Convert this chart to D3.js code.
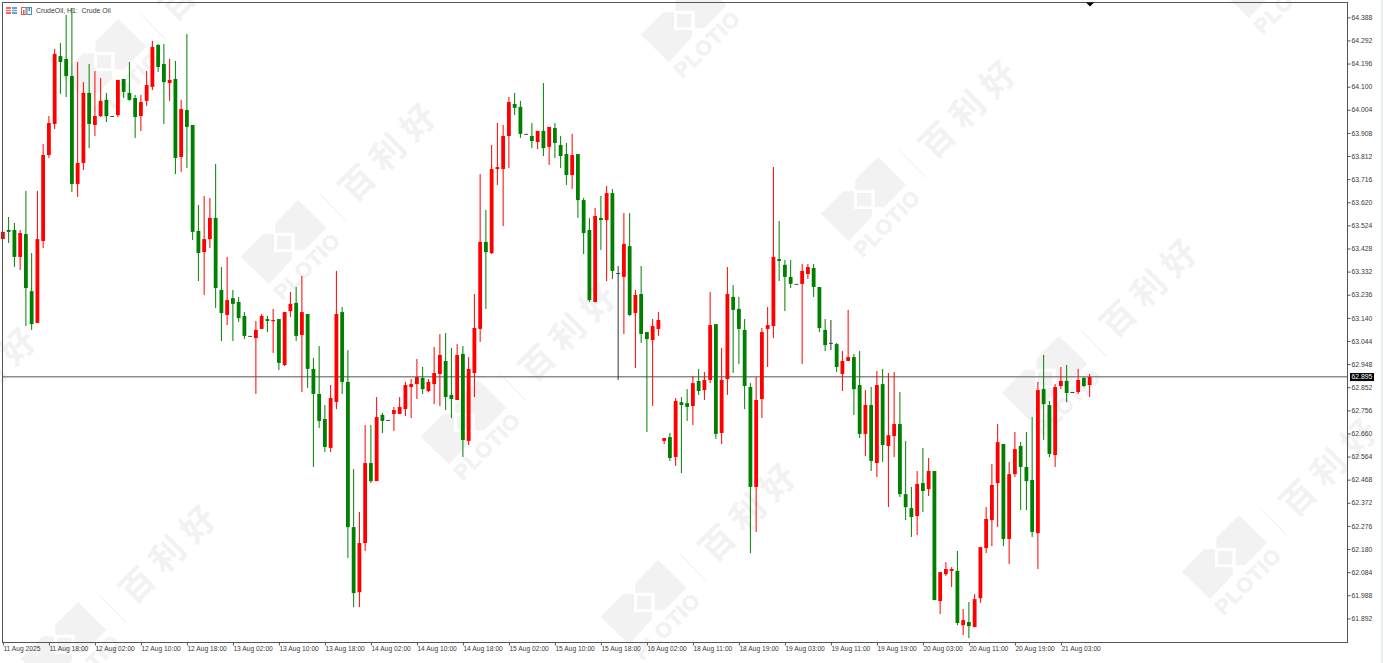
<!DOCTYPE html>
<html>
<head>
<meta charset="utf-8">
<script src="https://cdn.jsdelivr.net/npm/d3@7/dist/d3.min.js"></script>
<style>
html,body{margin:0;padding:0;background:#fff;overflow:hidden}
svg{display:block}
</style>
</head>
<body>
<svg id="c" width="1383" height="663"></svg>
<script>
const symbolTitle = "CrudeOil, H1:  Crude Oil";
const currentPrice = 62.895;
const currentPriceLabel = "62.895";
const priceTicks = [64.388,64.292,64.196,64.100,64.004,63.908,63.812,63.716,63.620,63.524,63.428,63.332,63.236,63.140,63.044,62.948,62.852,62.756,62.660,62.564,62.468,62.372,62.276,62.180,62.084,61.988,61.892];
const timeLabels = ["11 Aug 2025","11 Aug 18:00","12 Aug 02:00","12 Aug 10:00","12 Aug 18:00","13 Aug 02:00","13 Aug 10:00","13 Aug 18:00","14 Aug 02:00","14 Aug 10:00","14 Aug 18:00","15 Aug 02:00","15 Aug 10:00","15 Aug 18:00","16 Aug 02:00","18 Aug 11:00","18 Aug 19:00","19 Aug 03:00","19 Aug 11:00","19 Aug 19:00","20 Aug 03:00","20 Aug 11:00","20 Aug 19:00","21 Aug 03:00"];
const barsPerTimeLabel = 8;

const opens = [
63.467,63.505,63.505,63.393,63.488,63.251,63.119,63.459,63.816,63.945,
64.227,64.215,64.144,63.696,63.783,64.074,63.941,63.978,64.045,63.978,
63.982,64.132,64.074,64.053,63.978,64.041,64.099,64.273,64.194,64.115,
64.132,63.808,64.003,63.941,63.501,63.413,63.467,63.555,63.256,63.152,
63.222,63.206,63.148,63.065,63.056,63.094,63.135,63.127,63.135,62.944,
63.168,63.202,63.069,63.156,62.928,62.824,62.720,62.600,62.791,63.164,
62.874,62.271,62.001,62.205,62.537,62.462,62.737,62.716,62.741,62.741,
62.761,62.853,62.865,62.890,62.836,62.865,62.907,62.961,62.820,62.799,
62.990,62.629,62.911,63.094,63.455,63.409,63.758,63.758,63.895,64.028,
64.016,63.904,63.895,63.870,63.916,63.850,63.928,63.858,63.820,63.733,
63.820,63.629,63.505,63.206,63.555,63.546,63.658,63.326,63.310,63.438,
63.160,63.239,63.081,63.048,63.094,62.629,62.645,62.562,62.790,62.786,
62.774,62.878,62.840,62.882,63.114,62.662,62.886,63.227,63.177,63.090,
62.853,62.438,62.803,63.094,63.106,63.384,63.360,63.310,63.281,63.281,
63.322,63.347,63.268,63.090,63.036,63.031,62.907,62.961,62.977,62.861,
62.658,62.778,62.537,62.865,62.608,62.649,62.699,62.408,62.350,62.317,
62.454,62.429,62.504,61.964,62.076,62.089,62.089,61.864,61.877,61.856,
61.976,62.184,62.300,62.454,62.616,62.222,62.491,62.608,62.521,62.467,
62.246,62.844,62.778,62.570,62.857,62.878,62.832,62.832,62.890,62.861];

const closes = [
63.497,63.497,63.393,63.492,63.264,63.114,63.467,63.816,63.949,64.236,
64.202,64.144,63.696,63.783,64.074,63.945,63.978,64.041,63.978,63.978,
64.128,64.078,64.045,63.974,64.036,64.107,64.265,64.182,64.119,64.128,
63.804,64.007,63.933,63.497,63.409,63.467,63.555,63.264,63.160,63.214,
63.198,63.139,63.065,63.065,63.090,63.148,63.127,63.131,62.953,63.164,
63.198,63.065,63.164,62.928,62.824,62.712,62.604,62.807,63.156,62.874,
62.271,61.997,62.205,62.537,62.462,62.728,62.712,62.716,62.757,62.770,
62.861,62.865,62.894,62.844,62.874,62.911,62.986,62.811,62.803,62.986,
62.633,62.928,63.098,63.455,63.413,63.758,63.766,63.895,64.036,64.012,
63.904,63.904,63.874,63.916,63.845,63.933,63.866,63.812,63.733,63.816,
63.629,63.492,63.214,63.563,63.546,63.658,63.335,63.326,63.447,63.152,
63.235,63.073,63.052,63.106,63.131,62.641,62.558,62.795,62.778,62.770,
62.869,62.836,62.882,63.110,62.658,62.882,63.239,63.173,63.094,62.857,
62.438,62.799,63.081,63.110,63.393,63.376,63.310,63.281,63.281,63.335,
63.351,63.268,63.098,63.027,63.036,62.936,62.961,62.977,62.844,62.658,
62.778,62.546,62.861,62.612,62.653,62.699,62.408,62.354,62.313,62.450,
62.421,62.504,61.968,62.084,62.097,62.097,61.873,61.885,61.860,61.972,
62.188,62.305,62.446,62.624,62.222,62.491,62.595,62.521,62.462,62.251,
62.840,62.782,62.575,62.853,62.878,62.828,62.832,62.882,62.857,62.894];

const highs = [
63.497,63.559,63.534,63.505,63.667,63.409,63.667,63.862,63.978,64.257,
64.281,64.398,64.427,64.202,64.119,64.194,64.165,64.136,64.074,63.978,
64.128,64.132,64.202,64.066,64.066,64.165,64.290,64.277,64.277,64.215,
64.207,64.045,64.319,63.941,63.609,63.646,63.638,63.779,63.351,63.393,
63.256,63.227,63.164,63.065,63.127,63.156,63.148,63.177,63.135,63.164,
63.247,63.268,63.314,63.156,62.973,63.023,62.778,62.861,63.335,63.185,
63.006,62.512,62.334,62.695,62.695,62.811,62.745,62.716,62.770,62.811,
62.874,62.886,62.969,62.936,62.886,63.019,63.073,63.077,63.015,63.031,
63.023,62.977,63.239,63.737,63.588,63.858,63.949,63.941,64.057,64.074,
64.041,63.904,63.949,63.916,64.115,63.933,63.949,63.895,63.866,63.904,
63.820,63.638,63.555,63.596,63.646,63.688,63.675,63.355,63.575,63.575,
63.256,63.355,63.081,63.135,63.164,62.641,62.662,62.807,62.811,62.844,
62.899,62.928,62.915,63.247,63.114,63.015,63.351,63.276,63.227,63.135,
62.869,62.894,63.098,63.185,63.766,63.542,63.380,63.380,63.281,63.364,
63.364,63.364,63.268,63.135,63.131,63.036,63.002,63.173,62.990,63.002,
62.840,62.853,62.919,62.928,62.911,62.915,62.832,62.629,62.438,62.504,
62.600,62.558,62.504,62.084,62.126,62.105,62.172,61.931,61.960,61.993,
62.188,62.354,62.533,62.699,62.616,62.541,62.666,62.624,62.666,62.728,
62.874,62.986,62.795,62.865,62.936,62.944,62.832,62.928,62.894,62.907];

const lows = [
63.467,63.451,63.351,63.339,63.106,63.090,63.119,63.430,63.804,63.924,
64.070,64.057,63.663,63.642,63.754,63.845,63.895,63.974,63.953,63.978,
63.974,64.053,64.041,63.887,63.916,64.020,64.086,64.161,63.945,64.041,
63.737,63.746,63.762,63.463,63.293,63.235,63.430,63.181,63.044,63.110,
63.044,63.123,63.052,63.065,62.824,63.094,63.081,62.994,62.923,62.940,
63.144,63.044,62.832,62.849,62.521,62.683,62.583,62.583,62.761,62.824,
62.143,61.939,61.939,62.172,62.454,62.462,62.662,62.716,62.670,62.741,
62.732,62.724,62.803,62.824,62.832,62.782,62.774,62.757,62.724,62.799,
62.562,62.612,62.811,63.040,63.177,63.405,63.692,63.521,63.762,63.982,
63.887,63.904,63.845,63.841,63.812,63.775,63.804,63.762,63.692,63.675,
63.555,63.405,63.206,63.206,63.422,63.293,63.301,62.882,63.073,63.148,
62.932,63.036,62.666,62.774,63.065,62.616,62.546,62.525,62.496,62.712,
62.695,62.820,62.799,62.869,62.637,62.616,62.820,62.911,62.948,62.761,
62.163,62.251,62.724,62.936,63.056,63.293,63.168,63.264,63.281,62.948,
63.301,63.227,63.081,63.002,63.006,62.915,62.836,62.961,62.737,62.641,
62.566,62.504,62.479,62.541,62.354,62.562,62.396,62.300,62.230,62.238,
62.334,62.400,61.968,61.910,62.068,62.022,61.864,61.823,61.810,61.856,
61.956,62.163,62.192,62.271,62.192,62.118,62.479,62.342,62.342,62.230,
62.097,62.633,62.562,62.521,62.844,62.790,62.832,62.824,62.853,62.811];

const watermarkAnchors = [[118,45],[298,226],[478,406],[658,586],[698,4],[878,183],[1059,362],[1239,541],[1278,-40],[78,628],[-102,450]];

const LEFT = 2.5, TOP = 2.5, RIGHT = 1347.5, BOTTOM = 642.5;
const UI_FONT = "'Liberation Sans', Arial, sans-serif";
const svg = d3.select("#c");

const x = d3.scaleLinear().domain([0, 189]).range([2.9, 2.9 + 5.75 * 189]);
const y = d3.scaleLinear().domain([61.892, 64.388]).range([618.4, 17.3]);

// ---- watermark ----
const wmColor = "#f2f2f2";
const wm = svg.append("g").selectAll("g").data(watermarkAnchors).join("g")
  .attr("transform", d => `translate(${d[0]},${d[1]})`);
wm.append("polygon").attr("fill", wmColor)
  .attr("points", "-22.7,-3.3 0,-26 28.3,1.7 6,24.3 -3.3,24.3 -3.3,6.7 -22.7,6.7");
wm.append("polygon").attr("fill", wmColor)
  .attr("points", "-57.3,30.7 -35,8.3 -24,8.3 -24,26 -6,26 -6,33.3 -29,58.3");
wm.append("rect").attr("fill", wmColor).attr("x", -21).attr("y", 10).attr("width", 14.3).attr("height", 13.3);
wm.append("text").text("PLOTIO").attr("text-anchor", "middle").attr("dominant-baseline", "central")
  .attr("transform", "translate(9,40) rotate(-45)")
  .attr("font-family", UI_FONT).attr("font-weight", "700").attr("font-size", 21)
  .attr("letter-spacing", 1).attr("fill", wmColor).attr("stroke", wmColor).attr("stroke-width", 0.6);
wm.append("line").attr("x1", 21.7).attr("y1", -32.3).attr("x2", 47.7).attr("y2", -5.7)
  .attr("stroke", wmColor).attr("stroke-width", 1.2);
wm.append("text").text("百利好").attr("text-anchor", "middle").attr("dominant-baseline", "central")
  .attr("transform", "translate(91,-78) rotate(-45)")
  .attr("font-family", "'Noto Sans CJK SC'").attr("font-weight", "700").attr("font-size", 34)
  .attr("letter-spacing", 9).attr("fill", wmColor);

// ---- price line ----
svg.append("line").attr("x1", LEFT).attr("x2", RIGHT)
  .attr("y1", y(currentPrice)).attr("y2", y(currentPrice))
  .attr("stroke", "#8c8c8c").attr("stroke-width", 1.5);

// ---- candles ----
const RED = "#ff0000", GREEN = "#008000", DOJI = "#333333";
const colorOf = i => closes[i] > opens[i] ? RED : closes[i] < opens[i] ? GREEN : DOJI;
const candles = svg.append("g").selectAll("g").data(d3.range(opens.length)).join("g");
candles.append("line")
  .attr("x1", i => x(i)).attr("x2", i => x(i))
  .attr("y1", i => y(highs[i])).attr("y2", i => y(lows[i]))
  .attr("stroke", colorOf).attr("stroke-width", 1);
candles.append("rect")
  .attr("x", i => x(i) - 1.9).attr("width", 3.8)
  .attr("y", i => y(Math.max(opens[i], closes[i])))
  .attr("height", i => Math.max(closes[i] === opens[i] ? 0.9 : 1.2, Math.abs(y(opens[i]) - y(closes[i]))))
  .attr("fill", colorOf);

// ---- frame ----
svg.append("rect").attr("x", LEFT).attr("y", TOP).attr("width", RIGHT - LEFT).attr("height", BOTTOM - TOP)
  .attr("fill", "none").attr("stroke", "#555").attr("stroke-width", 1);
svg.append("rect").attr("x", 1381).attr("y", 0).attr("width", 2).attr("height", 663).attr("fill", "#e9efec");

// ---- axes ----
const yAxis = d3.axisRight(y).tickValues(priceTicks).tickFormat(d3.format(".3f")).tickSize(3).tickPadding(1);
const gy = svg.append("g").attr("transform", `translate(${RIGHT},0)`).call(yAxis);
gy.select(".domain").remove();
gy.selectAll("line").attr("stroke", "#555");
gy.selectAll("text").attr("font-family", UI_FONT).attr("font-size", 6.8).attr("fill", "#3a3a3a");

const timeTickIndex = timeLabels.map((_, i) => i * barsPerTimeLabel);
const xAxis = d3.axisBottom(x).tickValues(timeTickIndex).tickFormat((d, i) => timeLabels[i]).tickSize(3).tickPadding(1);
const gx = svg.append("g").attr("transform", `translate(0,${BOTTOM})`).call(xAxis);
gx.select(".domain").remove();
gx.selectAll("line").attr("stroke", "#555");
gx.selectAll("text").attr("font-family", UI_FONT).attr("font-size", 6.7).attr("fill", "#3a3a3a").attr("text-anchor", "start");

// ---- current price tag ----
svg.append("rect").attr("x", 1350).attr("y", y(currentPrice) - 3.8).attr("width", 24).attr("height", 8).attr("fill", "#000");
svg.append("text").text(currentPriceLabel).attr("x", 1351.5).attr("y", y(currentPrice) + 2.5)
  .attr("font-family", UI_FONT).attr("font-size", 6.8).attr("fill", "#fff");

// ---- title and icons ----
svg.append("text").text(symbolTitle).attr("x", 36).attr("y", 12.5)
  .style("white-space", "pre")
  .attr("font-family", UI_FONT).attr("font-size", 6.9).attr("fill", "#3a3a3a");
const ic1 = svg.append("g").attr("transform", "translate(6,7)");
ic1.append("rect").attr("width", 5).attr("height", 7).attr("fill", "#f46a6a");
ic1.append("rect").attr("x", 6).attr("width", 5).attr("height", 7).attr("fill", "#5aa5dc");
ic1.selectAll("line").data([2.5, 4.5]).join("line")
  .attr("x1", 0).attr("x2", 11).attr("y1", d => d).attr("y2", d => d).attr("stroke", "#fff").attr("stroke-width", 0.8);
const ic2 = svg.append("g").attr("transform", "translate(21,7)");
ic2.append("rect").attr("x", .5).attr("y", .5).attr("width", 4.5).attr("height", 7).attr("fill", "#fff").attr("stroke", "#e05a5a");
ic2.append("rect").attr("x", 6).attr("y", .5).attr("width", 4.5).attr("height", 7).attr("fill", "#fff").attr("stroke", "#3e8fcf");
ic2.append("rect").attr("x", 2).attr("y", 3).attr("width", 1.5).attr("height", 4).attr("fill", "#e05a5a");
ic2.append("rect").attr("x", 7.5).attr("y", 1).attr("width", 1.5).attr("height", 3).attr("fill", "#3e8fcf");

// ---- top-edge marker ----
svg.append("path").attr("d", d3.line()([[1086, 2.5], [1094, 2.5], [1090, 6.5]]) + "Z").attr("fill", "#000");
</script>
</body>
</html>
